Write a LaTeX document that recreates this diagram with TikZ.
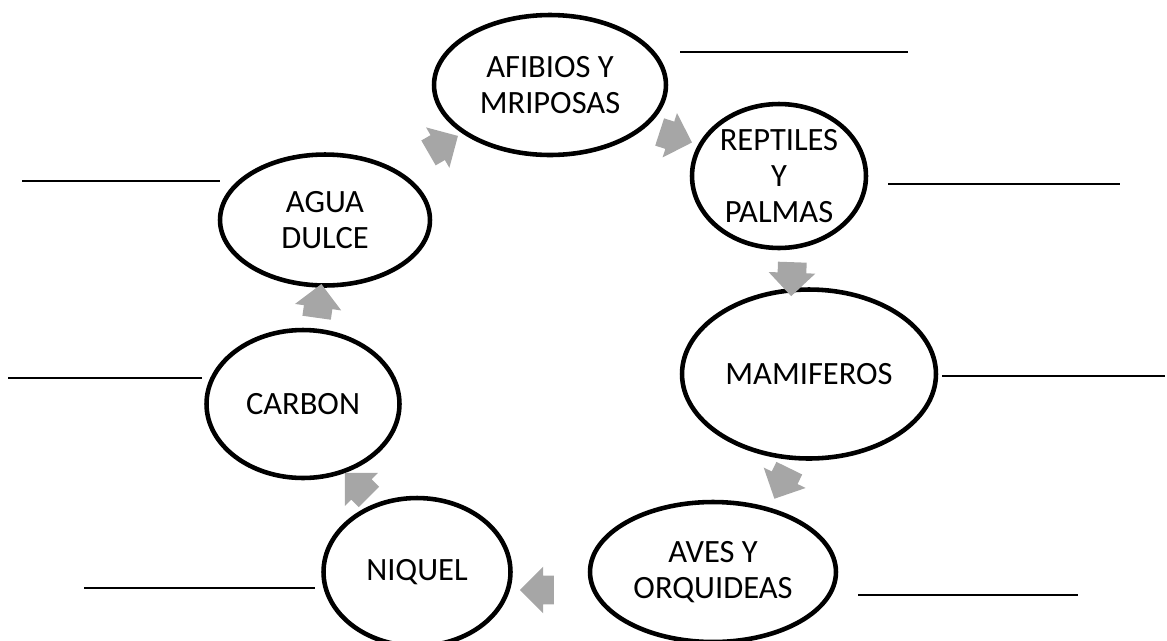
\documentclass[tikz,border=0pt]{standalone}
\usepackage{fontspec}
\setmainfont{Carlito}
\usetikzlibrary{shapes.geometric,shapes.arrows}
\definecolor{flechagris}{RGB}{166,166,166}

\begin{document}
\begin{tikzpicture}[x=0.02cm,y=-0.02cm,
		etapa/.style={draw,ellipse,line width=2.6pt,inner sep=0pt,align=center,font=\fontsize{18.5}{20.5}\selectfont},
		flecha/.style={single arrow,fill=flechagris,draw=none,inner xsep=0pt,inner ysep=0.28cm,minimum height=0.68cm,single arrow head extend=0.18cm}]
				\useasboundingbox (0,0) rectangle (1167,640);
				% etapas del ciclo
				\node[etapa,minimum width=4.64cm,minimum height=2.8cm] (afibios) at (550,85) {AFIBIOS Y\\MRIPOSAS};
				\node[etapa,minimum width=3.48cm,minimum height=2.88cm] (reptiles) at (779,176) {REPTILES\\Y\\PALMAS};
				\node[etapa,minimum width=5.08cm,minimum height=3.38cm] (mamiferos) at (809,374) {MAMIFEROS};
				\node[etapa,minimum width=4.92cm,minimum height=2.8cm] (aves) at (713,572) {AVES Y\\ORQUIDEAS};
				\node[etapa,minimum width=3.74cm,minimum height=2.96cm] (niquel) at (417,572) {NIQUEL};
				\node[etapa,minimum width=3.86cm,minimum height=2.96cm] (carbon) at (303,404) {CARBON};
				\node[etapa,minimum width=4.2cm,minimum height=2.62cm] (agua) at (325,220) {AGUA\\DULCE};
				% flechas grises
				\foreach \n/\px/\py/\ang in {f1/437/148/30, f2/669/135/-18, f3/792/272/-92, f4/785/477/-116, f5/544/590/180, f6/362/490/135, f7/318/308/82}
				\node[flecha,rotate=\ang] (\n) at (\px,\py) {};
				% lineas para escribir
				\foreach \xa/\xb/\yy in {680/908/52, 888/1120/184, 942/1165/376, 858/1078/595, 84/315/588, 8/202/378, 22/220/181}
				\draw[line width=1.1pt] (\xa,\yy) -- (\xb,\yy);
				\end{tikzpicture}
\end{document}
